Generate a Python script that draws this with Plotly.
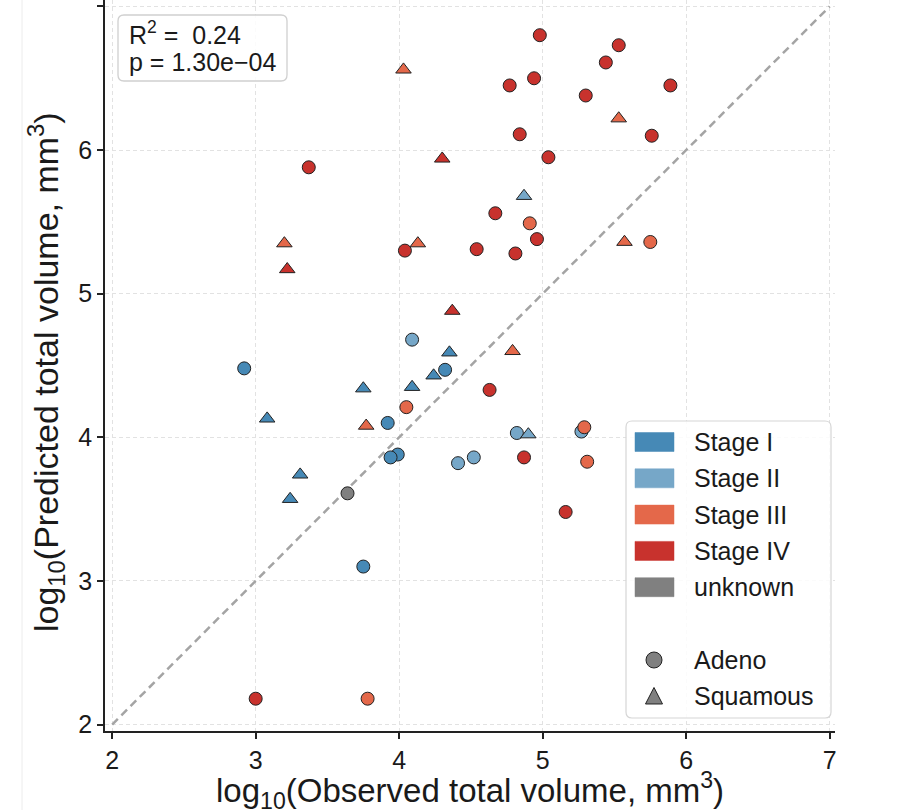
import plotly.graph_objects as go

# ---------------- data ----------------
OBS = [
    # Stage I
    2.92, 3.75, 3.92, 3.99, 3.94, 4.32,
    3.08, 3.31, 3.24, 3.75, 4.09, 4.24, 4.35,
    # Stage II
    4.09, 4.41, 4.52, 4.82, 5.27,
    4.87, 4.90,
    # Stage IV
    3.00, 3.37, 4.04, 4.54, 4.63, 4.67, 4.77, 4.81, 4.84, 4.87,
    4.94, 4.96, 4.98, 5.04, 5.16, 5.30, 5.44, 5.53, 5.76, 5.89,
    3.22, 4.30, 4.37,
    # unknown
    3.64,
    # Stage III
    3.78, 4.05, 4.91, 5.29, 5.31, 5.75,
    4.03, 3.20, 3.77, 4.13, 4.79, 5.53, 5.57,
]
PRED = [
    4.48, 3.10, 4.10, 3.88, 3.86, 4.47,
    4.13, 3.74, 3.57, 4.34, 4.35, 4.43, 4.59,
    4.68, 3.82, 3.86, 4.03, 4.04,
    5.68, 4.02,
    2.18, 5.88, 5.30, 5.31, 4.33, 5.56, 6.45, 5.28, 6.11, 3.86,
    6.50, 5.38, 6.80, 5.95, 3.48, 6.38, 6.61, 6.73, 6.10, 6.45,
    5.17, 5.94, 4.88,
    3.61,
    2.18, 4.21, 5.49, 4.07, 3.83, 5.36,
    6.56, 5.35, 4.08, 5.35, 4.60, 6.22, 5.36,
]
STAGE = (
    ["Stage I"] * 13
    + ["Stage II"] * 7
    + ["Stage IV"] * 23
    + ["unknown"] * 1
    + ["Stage III"] * 13
)
HIST = (
    ["Adeno"] * 6 + ["Squamous"] * 7
    + ["Adeno"] * 5 + ["Squamous"] * 2
    + ["Adeno"] * 20 + ["Squamous"] * 3
    + ["Adeno"] * 1
    + ["Adeno"] * 6 + ["Squamous"] * 7
)
STAGES = ["Stage I", "Stage II", "Stage III", "Stage IV", "unknown"]
HISTS = ["Adeno", "Squamous"]
TICKS = [2, 3, 4, 5, 6, 7]
R2_VALUE = "0.24"
P_VALUE = "1.30e\u221204"

# ---------------- styles ----------------
COLORS = {"Stage I": "#4689b6", "Stage II": "#76a7c8", "Stage III": "#e4684a",
          "Stage IV": "#c8322d", "unknown": "#808080"}
SYMBOLS = {"Adeno": "circle", "Squamous": "triangle-up"}
SIZES = {"Adeno": 13, "Squamous": 13.5}
FONT = "Liberation Sans, Arial, Helvetica, sans-serif"
TXT = "#1a1a1a"

W, H = 921, 810
ML, MR, MT, MB = 105, 86, 0, 79
PW, PH = W - ML - MR, H - MT - MB


def PX(x):
    return (x - ML) / PW


def PY(y):
    return (H - MB - y) / PH


def rrect(x0, y0, x1, y1, r):
    pts = [("M", [(x0 + r, y0)]), ("L", [(x1 - r, y0)]), ("Q", [(x1, y0), (x1, y0 + r)]),
           ("L", [(x1, y1 - r)]), ("Q", [(x1, y1), (x1 - r, y1)]), ("L", [(x0 + r, y1)]),
           ("Q", [(x0, y1), (x0, y1 - r)]), ("L", [(x0, y0 + r)]), ("Q", [(x0, y0), (x0 + r, y0)])]
    s = ""
    for cmd, ps in pts:
        s += cmd + " ".join(f"{PX(a):.5f},{PY(b):.5f}" for a, b in ps) + " "
    return s + "Z"


fig = go.Figure()

# identity line
fig.add_trace(go.Scatter(
    x=[TICKS[0], TICKS[-1]], y=[TICKS[0], TICKS[-1]], mode="lines",
    line=dict(color="#a4a4a4", width=2.5, dash="8px,5px"),
    hoverinfo="skip", showlegend=False))

# data points
fig.add_trace(go.Scatter(
    x=OBS, y=PRED, mode="markers", showlegend=False,
    marker=dict(color=[COLORS[s] for s in STAGE],
                symbol=[SYMBOLS[h] for h in HIST],
                size=[SIZES[h] for h in HIST],
                opacity=1,
                line=dict(color="#222222", width=1))))

shapes = []
annotations = []

# faint figure edge line
shapes.append(dict(type="line", xref="paper", yref="paper", x0=PX(22), x1=PX(22),
                   y0=PY(H), y1=PY(0), line=dict(color="#ececec", width=1), layer="below"))

# stats box
shapes.append(dict(type="path", xref="paper", yref="paper", path=rrect(118, 15, 287, 81, 6),
                   fillcolor="rgba(255,255,255,0.85)", line=dict(color="#d0d0d0", width=1.3)))
annotations.append(dict(xref="paper", yref="paper", x=PX(127), y=PY(33), xanchor="left",
                        yanchor="middle", showarrow=False,
                        text="R<sup>2</sup> =  " + R2_VALUE,
                        font=dict(family=FONT, size=25, color=TXT)))
annotations.append(dict(xref="paper", yref="paper", x=PX(127), y=PY(62), xanchor="left",
                        yanchor="middle", showarrow=False,
                        text="p = " + P_VALUE,
                        font=dict(family=FONT, size=25, color=TXT)))

# legend box
shapes.append(dict(type="path", xref="paper", yref="paper", path=rrect(626, 421, 831, 718, 6),
                   fillcolor="rgba(255,255,255,0.85)", line=dict(color="#d6d6d6", width=1.2)))
row0, step = 442, 36.3
for i, st in enumerate(STAGES):
    yc = row0 + i * step
    shapes.append(dict(type="rect", xref="paper", yref="paper",
                       x0=PX(635), x1=PX(674), y0=PY(yc - 9.5), y1=PY(yc + 9.5),
                       fillcolor=COLORS[st], line=dict(color=COLORS[st], width=0.5)))
    annotations.append(dict(xref="paper", yref="paper", x=PX(692), y=PY(yc), xanchor="left",
                            yanchor="middle", showarrow=False, text=st,
                            font=dict(family=FONT, size=25, color=TXT)))
hrows = [660, 696]
for h, yc in zip(HISTS, hrows):
    cx = 654
    if SYMBOLS[h] == "circle":
        shapes.append(dict(type="circle", xref="paper", yref="paper",
                           x0=PX(cx - 8), x1=PX(cx + 8), y0=PY(yc + 8), y1=PY(yc - 8),
                           fillcolor="#808080", line=dict(color="#222222", width=1)))
    else:
        path = (f"M{PX(cx - 8.5):.5f},{PY(yc + 8):.5f} L{PX(cx + 8.5):.5f},{PY(yc + 8):.5f} "
                f"L{PX(cx):.5f},{PY(yc - 8.5):.5f} Z")
        shapes.append(dict(type="path", xref="paper", yref="paper", path=path,
                           fillcolor="#808080", line=dict(color="#222222", width=1)))
    annotations.append(dict(xref="paper", yref="paper", x=PX(692), y=PY(yc), xanchor="left",
                            yanchor="middle", showarrow=False, text=h,
                            font=dict(family=FONT, size=25, color=TXT)))

# axis titles
annotations.append(dict(xref="paper", yref="paper", x=PX(470), y=PY(790), xanchor="center",
                        yanchor="middle", showarrow=False,
                        text="log<sub>10</sub>(Observed total volume, mm<sup>3</sup>)",
                        font=dict(family=FONT, size=33, color=TXT)))
annotations.append(dict(xref="paper", yref="paper", x=PX(46), y=PY(372), xanchor="center",
                        yanchor="middle", showarrow=False, textangle=-90,
                        text="log<sub>10</sub>(Predicted total volume, mm<sup>3</sup>)",
                        font=dict(family=FONT, size=34, color=TXT)))

axis_common = dict(
    tickvals=TICKS, ticktext=[str(t) for t in TICKS],
    showline=True, linecolor="#222222", linewidth=1.5, mirror=False,
    ticks="outside", ticklen=6, tickwidth=1.5, tickcolor="#222222",
    showgrid=True, gridcolor="#e2e2e2", gridwidth=1, griddash="4px,3px",
    zeroline=False, tickfont=dict(family=FONT, size=25, color=TXT),
    fixedrange=True,
)

fig.update_layout(
    width=W, height=H,
    margin=dict(l=ML, r=MR, t=MT, b=MB, autoexpand=False),
    paper_bgcolor="white", plot_bgcolor="white",
    xaxis=dict(range=[1.95, 7.037], **axis_common),
    yaxis=dict(range=[1.955, 7.045], **axis_common),
    shapes=shapes, annotations=annotations,
    showlegend=False,
)

fig.write_html("out.html")
